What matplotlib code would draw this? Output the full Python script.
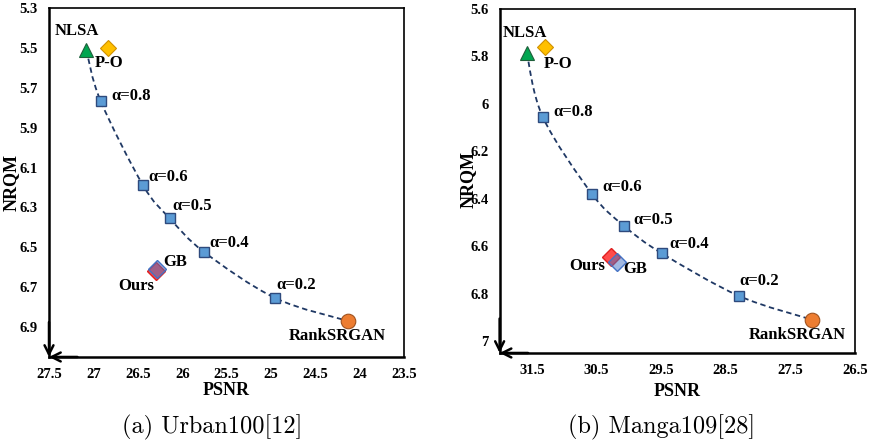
import numpy as np
import matplotlib
matplotlib.use('Agg')
import matplotlib.pyplot as plt
from matplotlib.path import Path
from matplotlib.patches import PathPatch

# ---- data ----
alphas = ['0.8', '0.6', '0.5', '0.4', '0.2']

# Urban100
u_nlsa = (27.08, 5.51)
u_po = (26.84, 5.50)
u_alpha_psnr = [26.92, 26.44, 26.14, 25.75, 24.95]
u_alpha_nrqm = [5.765, 6.19, 6.355, 6.525, 6.755]
u_rank = (24.13, 6.87)
u_gb = (26.28, 6.61)
u_ours = (26.29, 6.62)
u_xticks = [27.5, 27, 26.5, 26, 25.5, 25, 24.5, 24, 23.5]
u_yticks = [5.3, 5.5, 5.7, 5.9, 6.1, 6.3, 6.5, 6.7, 6.9]

# Manga109
m_nlsa = (31.58, 5.785)
m_po = (31.30, 5.76)
m_alpha_psnr = [31.33, 30.57, 30.08, 29.49, 28.29]
m_alpha_nrqm = [6.057, 6.38, 6.513, 6.63, 6.81]
m_rank = (27.16, 6.91)
m_gb = (30.19, 6.665)
m_ours = (30.28, 6.645)
m_xticks = [31.5, 30.5, 29.5, 28.5, 27.5, 26.5]
m_yticks = [5.6, 5.8, 6.0, 6.2, 6.4, 6.6, 6.8, 7.0]

FONT = 'Liberation Serif'


def smooth_path(xs, ys, tension=1/6.):
    # catmull-rom -> cubic bezier segments through the given points
    p = np.column_stack([xs, ys])
    verts = [p[0]]
    codes = [Path.MOVETO]
    n = len(p)
    for i in range(n - 1):
        p0 = p[i - 1] if i > 0 else p[i]
        p1 = p[i]
        p2 = p[i + 1]
        p3 = p[i + 2] if i + 2 < n else p[i + 1]
        c1 = p1 + (p2 - p0) * tension
        c2 = p2 - (p3 - p1) * tension
        verts += [c1, c2, p2]
        codes += [Path.CURVE4] * 3
    return Path(verts, codes)


def label(ax, xy, s, off, ha='center'):
    ax.annotate(s, xy=xy, xytext=off, textcoords='offset pixels',
                ha=ha, va='center', fontsize=12, fontweight='bold',
                family=FONT, zorder=6)


def panel(ax, nlsa, po, apsnr, anrqm, rank, gb, ours, xlim, ylim,
          xticks, yticks, offs):
    cx = [nlsa[0]] + apsnr + [rank[0]]
    cy = [nlsa[1]] + anrqm + [rank[1]]
    ax.add_patch(PathPatch(smooth_path(cx, cy), fill=False, ec='#1F3864',
                           lw=1.3, ls=(0, (3, 2)), zorder=2))
    ax.plot(apsnr, anrqm, 's', ms=7.5, mfc='#5B9BD5', mec='#2E4A7D',
            mew=1, zorder=4)
    ax.plot(*nlsa, '^', ms=10, mfc='#00A550', mec='#1F5F3A', mew=0.8, zorder=4)
    ax.plot(*po, 'D', ms=8.5, mfc='#FFC000', mec='#D09000', mew=0.8, zorder=4)
    ax.plot(*rank, 'o', ms=10.5, mfc='#ED7D31', mec='#A0521E', mew=0.8, zorder=4)
    ax.plot(*ours, 'D', ms=9, mfc='#FF4B4B', mec='#E02020', mew=1, zorder=4)
    ax.plot(*gb, 'D', ms=9, mfc=(0.27, 0.45, 0.77, 0.5), mec='#4472C4',
            mew=1, zorder=5)

    label(ax, nlsa, 'NLSA', offs['nlsa'])
    label(ax, po, 'P-O', offs['po'])
    label(ax, rank, 'RankSRGAN', offs['rank'])
    label(ax, gb, 'GB', offs['gb'], ha='left')
    label(ax, ours, 'Ours', offs['ours'], ha=offs.get('ours_ha', 'center'))
    for x, y, a, o in zip(apsnr, anrqm, alphas, offs['alpha']):
        label(ax, (x, y), '\u03b1=' + a, o, ha='left')

    ax.set_xlim(*xlim)
    ax.set_ylim(*ylim)
    ax.set_xticks(xticks)
    ax.set_xticklabels([('%g' % t) for t in xticks])
    ax.set_yticks(yticks)
    ax.set_yticklabels([('%g' % t) for t in yticks])
    ax.tick_params(length=0, pad=8, labelsize=10.5)
    for t in ax.get_xticklabels() + ax.get_yticklabels():
        t.set_family(FONT)
        t.set_fontweight('bold')
    for s in ['top', 'right']:
        ax.spines[s].set_linewidth(1.2)
    for s in ['left', 'bottom']:
        ax.spines[s].set_linewidth(1.8)
    ax.annotate('', xy=(0, 0), xytext=(0, 0.1), xycoords='axes fraction',
                arrowprops=dict(arrowstyle='->', lw=1.8, mutation_scale=16,
                                shrinkA=0, shrinkB=0))
    ax.annotate('', xy=(0, 0), xytext=(0.08, 0), xycoords='axes fraction',
                arrowprops=dict(arrowstyle='->', lw=1.8, mutation_scale=16,
                                shrinkA=0, shrinkB=0))
    ax.set_xlabel('PSNR', family=FONT, fontweight='bold', fontsize=13)
    ax.set_ylabel('NRQM', family=FONT, fontweight='bold', fontsize=13)


fig = plt.figure(figsize=(8.75, 4.44), dpi=100)
ax1 = fig.add_axes([0.056, 0.196, 0.406, 0.786])
ax2 = fig.add_axes([0.571, 0.205, 0.406, 0.775])

panel(ax1, u_nlsa, u_po, u_alpha_psnr, u_alpha_nrqm, u_rank, u_gb, u_ours,
      (27.5, 23.5), (7.05, 5.3), u_xticks, u_yticks,
      {'nlsa': (-9, 19), 'po': (2, -15), 'rank': (-11, -15), 'gb': (6, 7),
       'ours': (-20, -15),
       'alpha': [(11, 5), (5, 8), (3, 12), (5, 9), (1, 13)]})
panel(ax2, m_nlsa, m_po, m_alpha_psnr, m_alpha_nrqm, m_rank, m_gb, m_ours,
      (32.0, 26.5), (7.05, 5.6), m_xticks, m_yticks,
      {'nlsa': (-2, 20), 'po': (13, -17), 'rank': (-15, -15), 'gb': (7, -7),
       'ours': (-6, -9), 'ours_ha': 'right',
       'alpha': [(10, 5), (10, 7), (10, 6), (8, 9), (0, 15)]})

ax1.yaxis.set_label_coords(-0.082, 0.5)
ax1.xaxis.set_label_coords(0.5, -0.072)
ax2.yaxis.set_label_coords(-0.065, 0.503)
ax2.xaxis.set_label_coords(0.5, -0.087)

fig.text(212 / 875, 1 - 427 / 444, '(a) Urban100[12]', family='cmr10',
         fontsize=17.5, ha='center', va='center')
fig.text(662 / 875, 1 - 427 / 444, '(b) Manga109[28]', family='cmr10',
         fontsize=17.5, ha='center', va='center')

fig.savefig('out.png', dpi=100)
